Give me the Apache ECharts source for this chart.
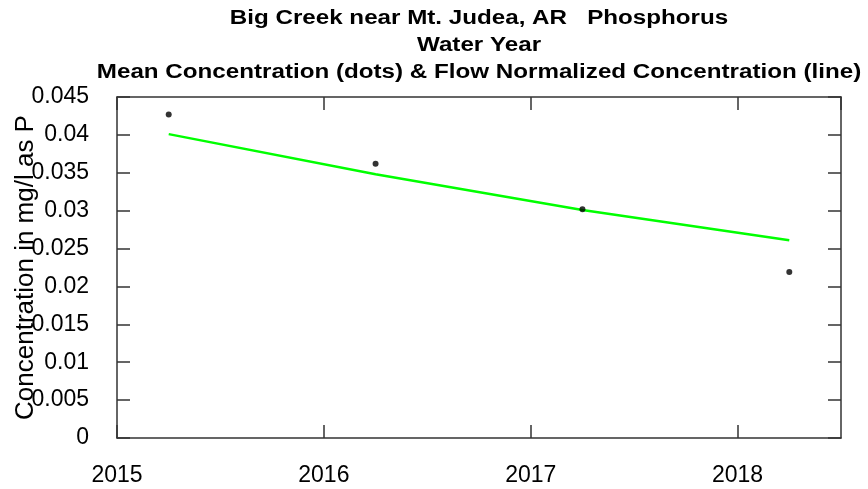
<!DOCTYPE html>
<html>
<head>
<meta charset="utf-8">
<script src="https://cdn.jsdelivr.net/npm/echarts@6/dist/echarts.min.js"></script>
<style>
  html, body { margin: 0; padding: 0; background: #fff; }
  #graph { width: 868px; height: 489px; }
</style>
</head>
<body>
<div id="graph"></div>
<script>
// water years (dots sit mid-year)
var years = [2015.25, 2016.25, 2017.25, 2018.25];
var meanConc = [0.0427, 0.0362, 0.0302, 0.0219];
var flowNormConc = [0.0401, 0.0348, 0.0301, 0.0261];

var titleLines = [
  'Big Creek near Mt. Judea, AR   Phosphorus',
  'Water Year',
  'Mean Concentration (dots) & Flow Normalized Concentration (line)'
];
var yLabel = 'Concentration in mg/l as P';

var dom = document.getElementById('graph');
var myChart = echarts.init(dom);

var font = 'Liberation Sans';
var boxColor = '#333';
var titleY = [18.5, 45.5, 73];

function pairs(xs, ys) {
  return xs.map(function (x, i) { return [x, ys[i]]; });
}

// the R title font renders wider than Arial bold, so stretch it a little
var titleGraphics = titleLines.map(function (t, i) {
  return {
    type: 'text',
    x: 479,
    y: titleY[i],
    scaleX: 1.24,
    style: {
      text: t,
      align: 'center',
      verticalAlign: 'middle',
      font: 'bold 19.5px "Liberation Sans"',
      fill: '#000'
    }
  };
});

var boxLine = { show: true, onZero: false, lineStyle: { color: boxColor, width: 1.5 } };
var boxTick = { show: true, inside: true, length: 13, lineStyle: { color: boxColor, width: 1.5 } };

var option = {
  animation: false,
  backgroundColor: '#fff',
  graphic: titleGraphics,
  grid: { left: 117, right: 27, top: 97, bottom: 51, outerBoundsMode: 'none', containLabel: false },
  xAxis: [{
    type: 'value',
    min: 2015,
    max: 2018.5,
    interval: 1,
    position: 'bottom',
    splitLine: { show: false },
    axisLine: boxLine,
    axisTick: boxTick,
    axisLabel: {
      margin: 26,
      showMaxLabel: false,
      fontFamily: font,
      fontSize: 23,
      color: '#000',
      formatter: function (v) { return v % 1 === 0 ? String(v) : ''; }
    }
  }, {
    type: 'value',
    min: 2015,
    max: 2018.5,
    interval: 1,
    position: 'top',
    splitLine: { show: false },
    axisLine: boxLine,
    axisTick: boxTick,
    axisLabel: { show: false }
  }],
  yAxis: [{
    type: 'value',
    min: 0,
    max: 0.045,
    interval: 0.005,
    position: 'left',
    name: yLabel,
    nameLocation: 'middle',
    nameRotate: 90,
    nameGap: 78,
    nameMoveOverlap: false,
    nameTextStyle: { fontFamily: font, fontSize: 26, color: '#000' },
    splitLine: { show: false },
    axisLine: boxLine,
    axisTick: boxTick,
    axisLabel: {
      margin: 28,
      fontFamily: font,
      fontSize: 23,
      color: '#000',
      formatter: function (v) { return String(+v.toFixed(3)); }
    }
  }, {
    type: 'value',
    min: 0,
    max: 0.045,
    interval: 0.005,
    position: 'right',
    splitLine: { show: false },
    axisLine: boxLine,
    axisTick: boxTick,
    axisLabel: { show: false }
  }],
  series: [{
    name: 'Flow Normalized Concentration',
    type: 'line',
    data: pairs(years, flowNormConc),
    showSymbol: false,
    smooth: false,
    lineStyle: { color: '#00ff00', width: 2.5 },
    z: 2
  }, {
    name: 'Mean Concentration',
    type: 'scatter',
    data: pairs(years, meanConc),
    symbol: 'circle',
    symbolSize: 6,
    itemStyle: { color: '#000' },
    z: 3
  }]
};

myChart.setOption(option, true);
</script>
</body>
</html>
